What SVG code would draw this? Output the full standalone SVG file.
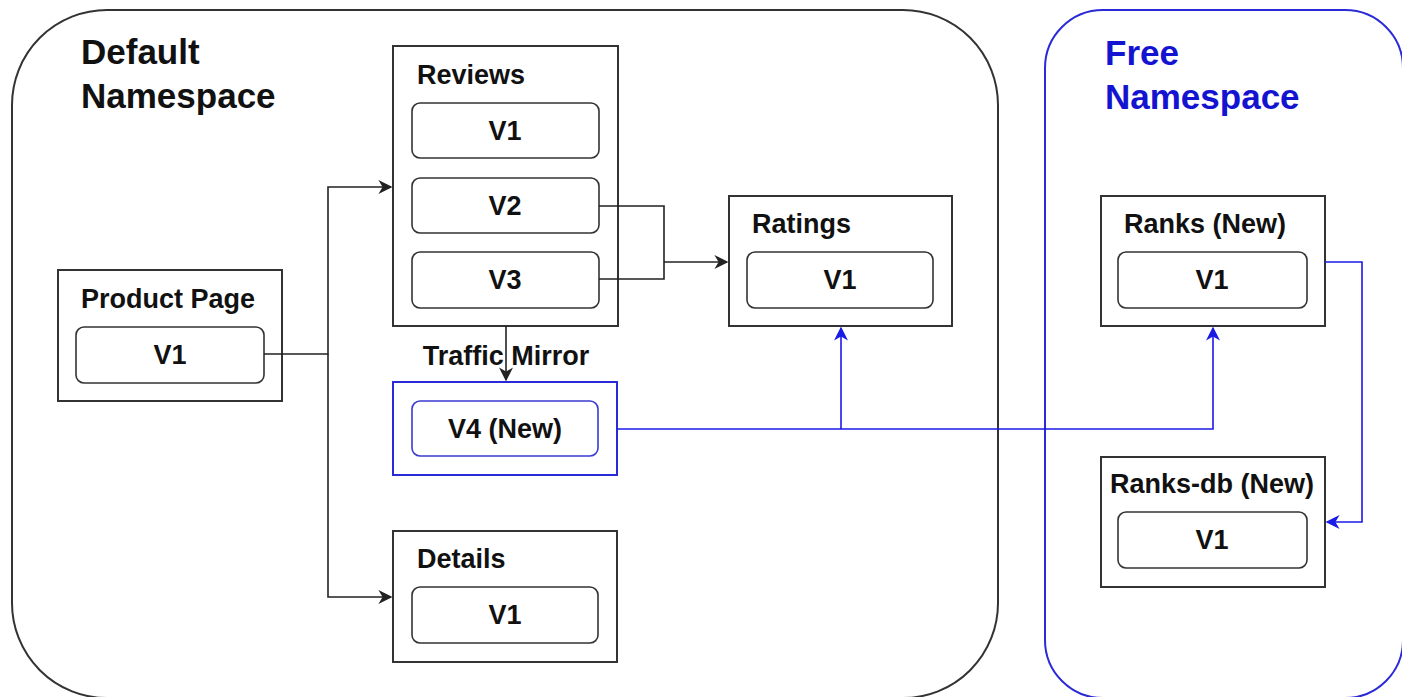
<svg xmlns="http://www.w3.org/2000/svg" width="1402" height="697" viewBox="0 0 1402 697">
<defs>
<style>
.ns{fill:#fff;stroke-width:2}
.box{fill:#fff;stroke:#333;stroke-width:2}
.inner{fill:#fff;stroke:#333;stroke-width:1.6}
.bbox{fill:#fff;stroke:#2a2ad8;stroke-width:2}
.binner{fill:#fff;stroke:#3a3ad0;stroke-width:1.6}
text{font-family:"Liberation Sans",Arial,Helvetica,sans-serif;font-weight:bold;fill:#111}
.t{font-size:27px}
.v{font-size:27px;text-anchor:middle}
.title{font-size:35px}
.blue{fill:#1414d0}
.k{fill:none;stroke:#222;stroke-width:1.6}
.b{fill:none;stroke:#1a1ae6;stroke-width:1.6}
</style>
<marker id="ak" viewBox="0 0 10 10" refX="9" refY="5" markerWidth="14" markerHeight="14" markerUnits="userSpaceOnUse" orient="auto">
<path d="M0 0 L10 5 L0 10 L3 5 Z" fill="#222"/>
</marker>
<marker id="ab" viewBox="0 0 10 10" refX="9" refY="5" markerWidth="14" markerHeight="14" markerUnits="userSpaceOnUse" orient="auto">
<path d="M0 0 L10 5 L0 10 L3 5 Z" fill="#1a1ae6"/>
</marker>
</defs>
<rect width="1402" height="697" fill="#fff"/>

<g id="default-namespace">
<rect class="ns" x="12" y="10" width="986" height="688" rx="95" ry="95" stroke="#333"/>
<text class="title" x="81" y="64">Default</text>
<text class="title" x="81" y="108">Namespace</text>
</g>

<g id="free-namespace">
<rect class="ns" x="1045" y="10" width="358" height="688" rx="58" ry="58" stroke="#2a2ad8"/>
<text class="title blue" x="1105" y="65">Free</text>
<text class="title blue" x="1105" y="109">Namespace</text>
</g>

<g id="product-page">
<rect class="box" x="58" y="270" width="224" height="131"/>
<text class="t" x="81" y="308">Product Page</text>
<rect class="inner" x="76" y="327" width="188" height="56" rx="8"/>
<text class="v" x="170" y="364">V1</text>
</g>

<g id="reviews">
<rect class="box" x="393" y="46" width="225" height="280"/>
<text class="t" x="417" y="84">Reviews</text>
<rect class="inner" x="412" y="103" width="187" height="55" rx="8"/>
<text class="v" x="505" y="140">V1</text>
<rect class="inner" x="412" y="178" width="187" height="55" rx="8"/>
<text class="v" x="505" y="215">V2</text>
<rect class="inner" x="412" y="252" width="187" height="56" rx="8"/>
<text class="v" x="505" y="289">V3</text>
</g>

<g id="reviews-v4">
<rect class="bbox" x="393" y="382" width="224" height="93"/>
<rect class="binner" x="412" y="401" width="186" height="55" rx="8"/>
<text class="v" x="505" y="438">V4 (New)</text>
</g>

<g id="details">
<rect class="box" x="393" y="531" width="224" height="131"/>
<text class="t" x="417" y="568">Details</text>
<rect class="inner" x="412" y="587" width="186" height="56" rx="8"/>
<text class="v" x="505" y="624">V1</text>
</g>

<g id="ratings">
<rect class="box" x="729" y="196" width="223" height="130"/>
<text class="t" x="752" y="233">Ratings</text>
<rect class="inner" x="747" y="252" width="186" height="56" rx="8"/>
<text class="v" x="840" y="289">V1</text>
</g>

<g id="ranks">
<rect class="box" x="1101" y="196" width="224" height="130"/>
<text class="t" x="1124" y="233">Ranks (New)</text>
<rect class="inner" x="1118" y="252" width="189" height="56" rx="8"/>
<text class="v" x="1212" y="289">V1</text>
</g>

<g id="ranks-db">
<rect class="box" x="1101" y="457" width="224" height="130"/>
<text class="t" x="1110" y="493">Ranks-db (New)</text>
<rect class="inner" x="1118" y="512" width="189" height="56" rx="8"/>
<text class="v" x="1212" y="549">V1</text>
</g>

<g id="connectors">
<path class="k" d="M264 354 H328 V187 H391" marker-end="url(#ak)"/>
<path class="k" d="M328 354 V597 H391" marker-end="url(#ak)"/>
<path class="k" d="M599 206 H664 V279 H599"/>
<path class="k" d="M664 262 H727" marker-end="url(#ak)"/>
<path class="k" d="M506 326 V380" marker-end="url(#ak)"/>
<path class="b" d="M617 429 H1213 V328" marker-end="url(#ab)"/>
<path class="b" d="M841 429 V328" marker-end="url(#ab)"/>
<path class="b" d="M1325 262 H1362 V522 H1327" marker-end="url(#ab)"/>
<text class="t" x="506" y="365" text-anchor="middle">Traffic Mirror</text>
</g>
</svg>
